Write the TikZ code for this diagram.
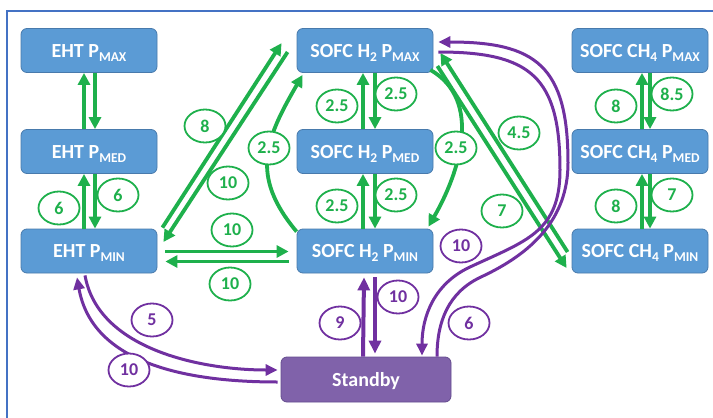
\documentclass[tikz,border=0pt]{standalone}
\usepackage{fontspec}
\setmainfont{Carlito}
\usetikzlibrary{arrows.meta}
\definecolor{boxblue}{RGB}{91,155,213}
\definecolor{boxedge}{RGB}{72,122,172}
\definecolor{sbfill}{RGB}{128,98,170}
\definecolor{sbedge}{RGB}{100,76,142}
\definecolor{grn}{RGB}{30,176,76}
\definecolor{prp}{RGB}{112,48,160}
\definecolor{framec}{RGB}{68,114,196}
% lowered, smaller text for the subscripts in the state names
\newcommand\lowtxt[1]{\raisebox{-4.2pt}{\fontsize{13.5}{13.5}\selectfont #1}}
% transition time in an oval: colour, node name, position, value
\newcommand\timelabel[4]{%
  \path[draw=#1, line width=1.8pt, fill=white] #3 ellipse [x radius=20.5pt, y radius=16.5pt];
  \node[text=#1, inner sep=0pt, font=\fontsize{18}{18}\selectfont\bfseries] (#2) at #3 {#4};}

\begin{document}
\begin{tikzpicture}[x=1pt,y=-1pt,
  modebox/.style={draw=boxedge, line width=0.8pt, fill=boxblue, rounded corners=6pt,
    minimum width=136pt, minimum height=44pt, inner sep=0pt, text=white,
    font=\fontsize{20}{20}\selectfont\bfseries, text height=13pt, text depth=0pt},
  sbbox/.style={modebox, fill=sbfill, draw=sbedge, minimum width=170pt, minimum height=45pt},
  gar/.style={draw=grn, line width=3.8pt, -{Triangle[length=12pt,width=12pt]}},
  par/.style={draw=prp, line width=3pt, -{Triangle[length=12pt,width=11pt]}},
  pvert/.style={par, line width=4pt, -{Triangle[length=13pt,width=12pt]}}]

% canvas and frame
\fill[white] (0,0) rectangle (713,418);
\useasboundingbox (0,0) rectangle (713,418);
\draw[framec, line width=1.2pt] (7,418) -- (7,11) -- (713,11);

% operating states
\node[modebox] (ehtmax) at (89,50.5)  {EHT P\lowtxt{MAX}};
\node[modebox] (ehtmed) at (89,151.5) {EHT P\lowtxt{MED}};
\node[modebox] (ehtmin) at (89,251)   {EHT P\lowtxt{MIN}};
\node[modebox] (h2max) at (365,50.5)  {SOFC H\lowtxt{2} P\lowtxt{MAX}};
\node[modebox] (h2med) at (365,151.5) {SOFC H\lowtxt{2} P\lowtxt{MED}};
\node[modebox] (h2min) at (365,251)   {SOFC H\lowtxt{2} P\lowtxt{MIN}};
\node[modebox] (ch4max) at (640,50.5)  {SOFC CH\lowtxt{4} P\lowtxt{MAX}};
\node[modebox] (ch4med) at (640,151.5) {SOFC CH\lowtxt{4} P\lowtxt{MED}};
\node[modebox] (ch4min) at (640,251)   {SOFC CH\lowtxt{4} P\lowtxt{MIN}};
\node[sbbox] (sb) at (366,379.5) {Standby};

% waypoints of the long purple curves
\coordinate (pin1) at (560,170);
\coordinate (pin2) at (470,267);
\coordinate (pout1) at (481,277);
\coordinate (pout2) at (568,163);

% EHT column
\draw[gar] ([xshift=-5pt]ehtmed.north) -- ([xshift=-5pt]ehtmax.south);
\draw[gar] ([xshift=6pt]ehtmax.south) -- ([xshift=6pt]ehtmed.north);
\draw[gar] ([xshift=-5pt]ehtmin.north) -- ([xshift=-5pt]ehtmed.south);
\draw[gar] ([xshift=6pt]ehtmed.south) -- ([xshift=6pt]ehtmin.north);

% SOFC H2 column
\draw[gar] ([xshift=-2pt]h2med.north) -- ([xshift=-2pt]h2max.south);
\draw[gar] ([xshift=10pt]h2max.south) -- ([xshift=10pt]h2med.north);
\draw[gar] ([xshift=-2pt]h2min.north) -- ([xshift=-2pt]h2med.south);
\draw[gar] ([xshift=10pt]h2med.south) -- ([xshift=10pt]h2min.north);
\draw[gar] ([yshift=-3pt]h2min.north west) to[out=130,in=240,looseness=1.2] ([xshift=6pt,yshift=-2pt]h2max.south west);
\draw[gar] ([xshift=-3pt,yshift=3pt]h2max.south east) to[out=-30,in=60] ([xshift=-5pt,yshift=2pt]h2min.north east);

% SOFC CH4 column
\draw[gar] ([xshift=2pt]ch4med.north) -- ([xshift=2pt]ch4max.south);
\draw[gar] ([xshift=10pt]ch4max.south) -- ([xshift=10pt]ch4med.north);
\draw[gar] ([xshift=2pt]ch4min.north) -- ([xshift=2pt]ch4med.south);
\draw[gar] ([xshift=10pt]ch4med.south) -- ([xshift=10pt]ch4min.north);

% transfers between columns
\draw[gar] ([xshift=8pt,yshift=-0.5pt]ehtmin.east) -- ([xshift=-8pt,yshift=-0.5pt]h2min.west);
\draw[gar] ([xshift=-8pt,yshift=-10.5pt]h2min.west) -- ([xshift=8pt,yshift=-10.5pt]ehtmin.east);
\draw[gar] ([xshift=5pt,yshift=1pt]ehtmin.north east) -- ([xshift=-15pt,yshift=-15pt]h2max.north west);
\draw[gar] ([xshift=-9pt,yshift=-1.5pt]h2max.west) -- ([xshift=6pt,yshift=9pt]ehtmin.east);
\draw[gar] ([xshift=-4pt,yshift=-1pt]ch4min.west) -- ([xshift=7pt,yshift=-2.5pt]h2max.east);
\draw[gar] ([xshift=4pt,yshift=-15.5pt]h2max.east) -- ([xshift=-5pt,yshift=-17pt]ch4min.west);

% standby transitions
\draw[pvert] ([xshift=-3pt]sb.north) -- ([xshift=-1pt,yshift=-4pt]h2min.south);
\draw[pvert] ([xshift=10pt,yshift=-4pt]h2min.south) -- ([xshift=9pt,yshift=3pt]sb.north);
\draw[par] ([xshift=5pt,yshift=-1.5pt]h2max.east) to[out=0,in=90,looseness=1.4] (pin1)
  to[out=-90,in=25,looseness=1.2] (pin2) to[out=205,in=90] ([xshift=56pt,yshift=1pt]sb.north);
\draw[par] ([xshift=71pt]sb.north) to[out=90,in=205] (pout1) to[out=25,in=-90] (pout2)
  to[out=90,in=0,looseness=1.4] ([xshift=5pt,yshift=8.5pt]h2max.east);
\draw[par] ([xshift=-4pt,yshift=-2pt]ehtmin.south) to[out=-80,in=180,looseness=0.9] ([xshift=-3pt,yshift=9.5pt]sb.west);
\draw[par] ([xshift=-3pt,yshift=-2.5pt]sb.west) to[out=180,in=-80] ([xshift=-12pt,yshift=-4pt]ehtmin.south);

% transition times
\timelabel{grn}{l1}{(205,126)}{8}
\timelabel{grn}{l2}{(228,183)}{10}
\timelabel{grn}{l3}{(59,208)}{6}
\timelabel{grn}{l4}{(118,195)}{6}
\timelabel{grn}{l5}{(232,230)}{10}
\timelabel{grn}{l6}{(230,284)}{10}
\timelabel{grn}{l7}{(269,148)}{2.5}
\timelabel{grn}{l8}{(337,106)}{2.5}
\timelabel{grn}{l9}{(396,94)}{2.5}
\timelabel{grn}{l10}{(456,148)}{2.5}
\timelabel{grn}{l11}{(337,206)}{2.5}
\timelabel{grn}{l12}{(396,195)}{2.5}
\timelabel{grn}{l13}{(519,133)}{4.5}
\timelabel{grn}{l14}{(502,211)}{7}
\timelabel{grn}{l15}{(616,106)}{8}
\timelabel{grn}{l16}{(672,94)}{8.5}
\timelabel{grn}{l17}{(616,206)}{8}
\timelabel{grn}{l18}{(672,195)}{7}
\timelabel{prp}{l19}{(461,246)}{10}
\timelabel{prp}{l20}{(469,323)}{6}
\timelabel{prp}{l21}{(340,323)}{9}
\timelabel{prp}{l22}{(398,297)}{10}
\timelabel{prp}{l23}{(152,320)}{5}
\timelabel{prp}{l24}{(129,370)}{10}
\end{tikzpicture}
\end{document}
